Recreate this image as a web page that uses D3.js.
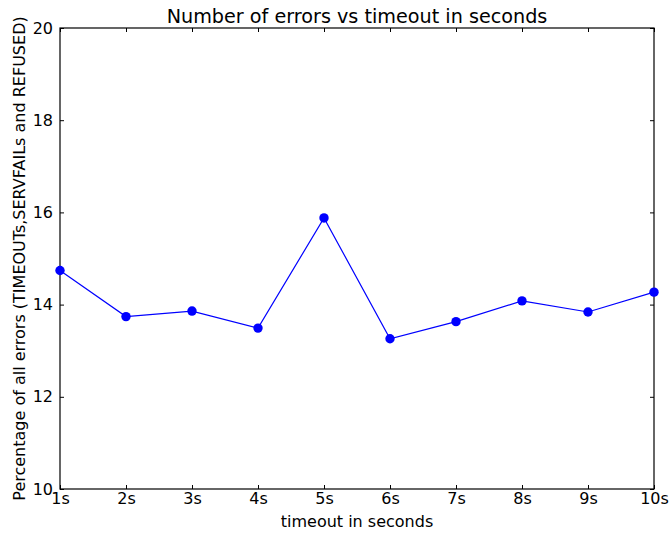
<!DOCTYPE html>
<html>
<head>
<meta charset="utf-8">
<script src="https://cdn.jsdelivr.net/npm/d3@7"></script>
<style>
  body { margin: 0; background: #fff; }
  svg { display: block; font-family: "DejaVu Sans", sans-serif; }
</style>
</head>
<body>
<svg id="chart"></svg>
<script>
const w = 669;
const h = 533;

// data
const timeouts = ["1s", "2s", "3s", "4s", "5s", "6s", "7s", "8s", "9s", "10s"];
const errorPct = [14.74, 13.74, 13.86, 13.49, 15.88, 13.26, 13.63, 14.08, 13.84, 14.27];
const yTicks = [10, 12, 14, 16, 18, 20];

const margin = { top: 28, right: 15, bottom: 44, left: 60 };
const width = w - margin.left - margin.right;
const height = h - margin.top - margin.bottom;

const svg = d3.select("#chart").attr("width", w).attr("height", h);
const chart = svg.append("g").attr("transform", `translate(${margin.left},${margin.top})`);

const x = d3.scalePoint().domain(timeouts).range([0, width]);
const y = d3.scaleLinear().domain([10, 20]).range([height, 0]);

// ticks point inward, on all four sides (matplotlib classic)
const tickLen = 4;
chart.append("g")
  .attr("transform", `translate(0,${height})`)
  .call(d3.axisBottom(x).tickSizeInner(-tickLen).tickSizeOuter(0).tickPadding(4))
  .call(g => g.select(".domain").remove());
chart.append("g")
  .call(d3.axisTop(x).tickSizeInner(-tickLen).tickSizeOuter(0).tickFormat(""))
  .call(g => g.select(".domain").remove());
chart.append("g")
  .call(d3.axisLeft(y).tickValues(yTicks).tickSizeInner(-tickLen).tickSizeOuter(0).tickPadding(7))
  .call(g => g.select(".domain").remove());
chart.append("g")
  .attr("transform", `translate(${width},0)`)
  .call(d3.axisRight(y).tickValues(yTicks).tickSizeInner(-tickLen).tickSizeOuter(0).tickFormat(""))
  .call(g => g.select(".domain").remove());

chart.selectAll(".tick text").attr("font-size", 16).attr("fill", "#000")
  .attr("font-family", "DejaVu Sans, sans-serif");
chart.selectAll(".tick line").attr("stroke", "#000");

chart.append("rect")
  .attr("width", width).attr("height", height)
  .attr("fill", "none").attr("stroke", "#000").attr("stroke-width", 1.2);

const line = d3.line()
  .x((d, i) => x(timeouts[i]))
  .y(d => y(d));

chart.append("path")
  .datum(errorPct)
  .attr("d", line)
  .attr("fill", "none")
  .attr("stroke", "#0000ff")
  .attr("stroke-width", 1.2);

chart.selectAll(".dot")
  .data(errorPct)
  .join("circle")
  .attr("class", "dot")
  .attr("cx", (d, i) => x(timeouts[i]))
  .attr("cy", d => y(d))
  .attr("r", 4.7)
  .attr("fill", "#0000ff");

// titles
svg.append("text")
  .attr("x", margin.left + width / 2).attr("y", 22.5)
  .attr("text-anchor", "middle").attr("font-size", 19.2)
  .text("Number of errors vs timeout in seconds");

svg.append("text")
  .attr("x", margin.left + width / 2).attr("y", 527)
  .attr("text-anchor", "middle").attr("font-size", 16)
  .text("timeout in seconds");

svg.append("text")
  .attr("transform", `translate(25,${margin.top + height / 2}) rotate(-90)`)
  .attr("text-anchor", "middle").attr("font-size", 16)
  .text("Percentage of all errors (TIMEOUTs,SERVFAILs and REFUSED)");
</script>
</body>
</html>
